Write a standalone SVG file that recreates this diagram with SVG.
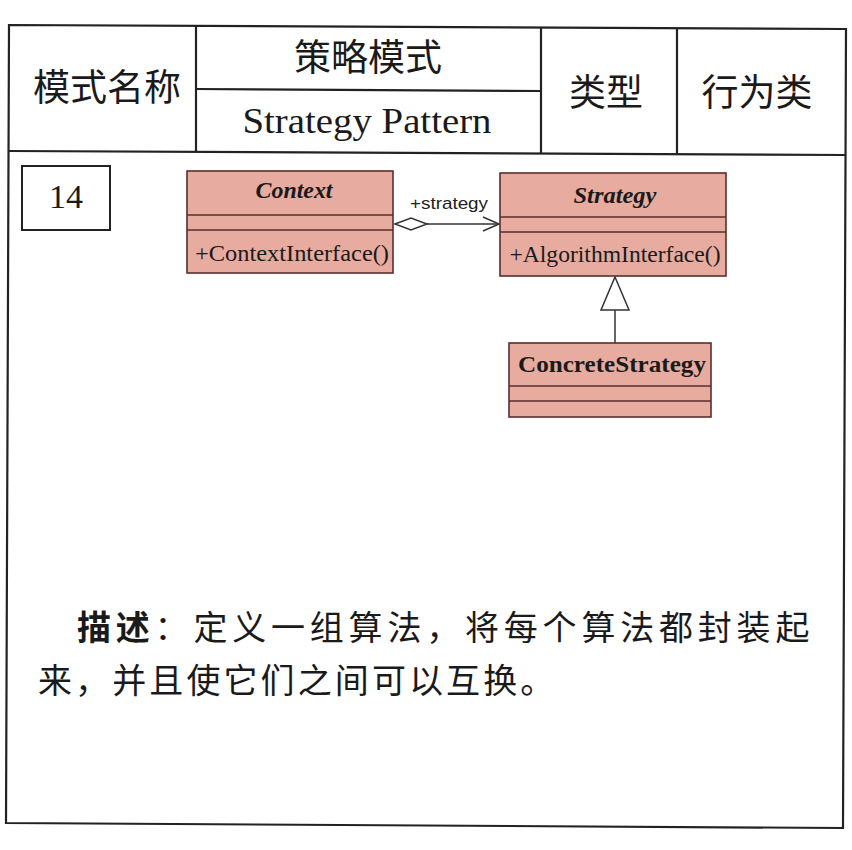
<svg xmlns="http://www.w3.org/2000/svg" width="852" height="850" viewBox="0 0 852 850">
<defs>
<style>
.frame{fill:none;stroke:#222;stroke-width:2.2}
.cjk{font-family:"Noto Sans CJK SC","Noto Sans CJK TC",sans-serif;fill:#1a1a1a}
.serif{font-family:"Liberation Serif","Times New Roman",serif;fill:#1a1a1a}
.cls{fill:#e8aba0;stroke:#5a2e2e;stroke-width:1.6}
.sep{stroke:#5a2e2e;stroke-width:1.6}
.conn{fill:none;stroke:#333;stroke-width:1.5}
</style>
</defs>
<rect width="852" height="850" fill="#ffffff"/>
<g id="table">
<polygon class="frame" points="9,25 846,29 843,828 6,823"/>
<line class="frame" x1="9" y1="151" x2="846" y2="155"/>
<line class="frame" x1="196" y1="26" x2="196" y2="152"/>
<line class="frame" x1="541" y1="27" x2="541" y2="154"/>
<line class="frame" x1="677" y1="28" x2="677" y2="155"/>
<line class="frame" x1="196" y1="89" x2="541" y2="91"/>
<text class="cjk" x="107" y="85" font-size="37" text-anchor="middle" dominant-baseline="central">模式名称</text>
<text class="cjk" x="368" y="55" font-size="37" text-anchor="middle" dominant-baseline="central">策略模式</text>
<text class="serif" x="367" y="133" font-size="36" text-anchor="middle" textLength="249" lengthAdjust="spacingAndGlyphs">Strategy Pattern</text>
<text class="cjk" x="606" y="90" font-size="37" text-anchor="middle" dominant-baseline="central">类型</text>
<text class="cjk" x="757" y="90" font-size="37" text-anchor="middle" dominant-baseline="central">行为类</text>
</g>
<g id="number">
<rect x="22" y="166" width="88" height="64" fill="none" stroke="#222" stroke-width="2"/>
<text class="serif" x="66" y="208" font-size="34" text-anchor="middle">14</text>
</g>
<g id="connectors">
<polygon points="395,224 411,218 427,224 411,230" fill="#fff" stroke="#333" stroke-width="1.5"/>
<line class="conn" x1="427" y1="224" x2="499" y2="224"/>
<polyline class="conn" points="483,217 499,224 483,231"/>
<text x="449" y="209" font-family="Liberation Sans, Arial, sans-serif" font-size="17" fill="#222" text-anchor="middle" textLength="78" lengthAdjust="spacingAndGlyphs">+strategy</text>
<line class="conn" x1="615" y1="310" x2="615" y2="343"/>
<polygon points="615,277 629,310 601,310" fill="#fff" stroke="#333" stroke-width="1.5"/>
</g>
<g id="Context">
<rect class="cls" x="187" y="171" width="206" height="102"/>
<line class="sep" x1="187" y1="215" x2="393" y2="215"/>
<line class="sep" x1="187" y1="230" x2="393" y2="230"/>
<text class="serif" x="294" y="198" font-size="23" font-weight="bold" font-style="italic" text-anchor="middle" textLength="77" lengthAdjust="spacingAndGlyphs">Context</text>
<text class="serif" x="292" y="261" font-size="24" text-anchor="middle" textLength="194" lengthAdjust="spacingAndGlyphs">+ContextInterface()</text>
</g>
<g id="Strategy">
<rect class="cls" x="500" y="173" width="226" height="103"/>
<line class="sep" x1="500" y1="217" x2="726" y2="217"/>
<line class="sep" x1="500" y1="232" x2="726" y2="232"/>
<text class="serif" x="615" y="203" font-size="23" font-weight="bold" font-style="italic" text-anchor="middle" textLength="83" lengthAdjust="spacingAndGlyphs">Strategy</text>
<text class="serif" x="615" y="262" font-size="24" text-anchor="middle" textLength="211" lengthAdjust="spacingAndGlyphs">+AlgorithmInterface()</text>
</g>
<g id="ConcreteStrategy">
<rect class="cls" x="509" y="343" width="202" height="74"/>
<line class="sep" x1="509" y1="386" x2="711" y2="386"/>
<line class="sep" x1="509" y1="401" x2="711" y2="401"/>
<text class="serif" x="612" y="372" font-size="23" font-weight="bold" text-anchor="middle" textLength="188" lengthAdjust="spacingAndGlyphs">ConcreteStrategy</text>
</g>
<g id="description">
<text class="cjk" x="77" y="625" font-size="34" letter-spacing="4.8" dominant-baseline="central"><tspan font-weight="bold">描述</tspan>：定义一组算法，将每个算法都封装起</text>
<text class="cjk" x="38" y="678" font-size="34" letter-spacing="3.1" dominant-baseline="central">来，并且使它们之间可以互换。</text>
</g>
</svg>
